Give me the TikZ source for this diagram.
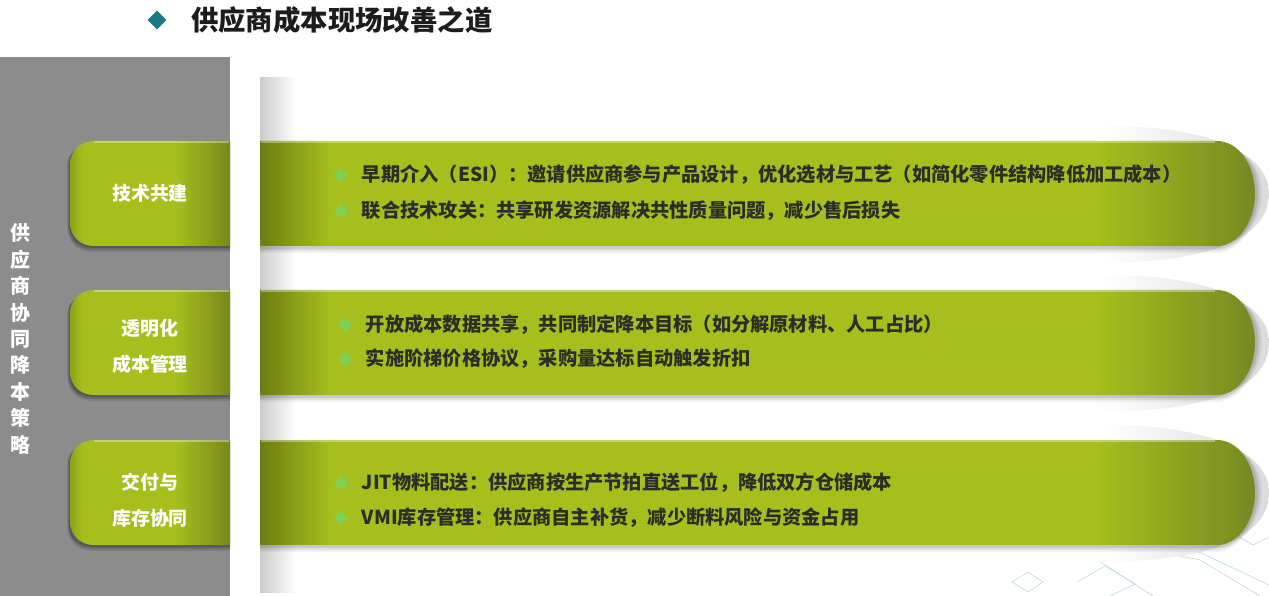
\documentclass[tikz,border=0pt]{standalone}
\usepackage{fontspec}
\setmainfont{Noto Sans CJK SC}
\definecolor{panelgray}{RGB}{140, 140, 140}
\definecolor{titleteal}{RGB}{22, 122, 132}
\definecolor{titledark}{RGB}{28, 28, 28}
\definecolor{textdark}{RGB}{45, 45, 40}
\definecolor{bulletgreen}{RGB}{128, 208, 82}
\definecolor{banmain}{RGB}{166, 191, 28}
\definecolor{bandeep}{RGB}{108, 124, 16}
\definecolor{banend}{RGB}{118, 137, 34}
\definecolor{tabdark}{RGB}{120, 136, 26}
\definecolor{gridline}{RGB}{196, 214, 222}
\usetikzlibrary{shapes.geometric, positioning}
\pgfdeclarehorizontalshading{bannershade}{100bp}{color(0bp)=(bandeep); color(25bp)=(bandeep); color(28.5bp)=(banmain); color(67bp)=(banmain); color(75bp)=(banend); color(100bp)=(banend)}
\pgfdeclarehorizontalshading{tabshade}{100bp}{color(0bp)=(banmain!85!black); color(25bp)=(banmain!85!black); color(29bp)=(banmain); color(58bp)=(banmain); color(75bp)=(tabdark); color(100bp)=(tabdark)}
\pgfdeclarehorizontalshading{swooshshade}{100bp}{color(0bp)=(white); color(38bp)=(white); color(75bp)=(black!14); color(100bp)=(black!14)}

\begin{document}
\begin{tikzpicture}[x=1bp, y=-1bp]
  \useasboundingbox (0,0) rectangle (1269,596);

  % Title
  \node[diamond, fill=titleteal, inner sep=0pt, minimum size=19bp] (titlemark) at (157,20) {};
  \node[anchor=west, inner sep=0pt, text=titledark, font=\fontsize{27.5}{32}\selectfont\bfseries] (title) at (191,20) {供应商成本现场改善之道};

  % Left panel
  \fill[panelgray] (0,57) rectangle (230,596);
  \node[text=white, align=center, font=\fontsize{20}{26.5}\selectfont\bfseries] (strategy) at (20,339) {供\\应\\商\\协\\同\\降\\本\\策\\略};

  % Page shadow and background lines
  \fill[left color=black!20, right color=white] (260,78) rectangle (296,592);
  \draw[gridline, line width=0.6bp] (1012,582) -- (1028,572) -- (1043,582) -- (1028,592) -- cycle;
  \draw[gridline, line width=0.6bp] (1077,582) -- (1105,566) -- (1135,584) -- (1110,596);
  \draw[gridline, line width=0.6bp] (1085,552) -- (1110,542) -- (1200,560) -- (1260,596);
  \draw[gridline, line width=0.6bp] (1085,552) -- (1153,596);
  \draw[gridline, line width=0.6bp] (1100,560) -- (1180,543) -- (1269,585);
  \draw[gridline, line width=0.6bp] (1233,533) -- (1253,545) -- (1269,537);

  % Bars
  \foreach \top [evaluate=\top as \mid using \top+52.5,
                 evaluate=\top as \bot using \top+105] in {141,290,440} {
    % swoosh behind the round end
    \shade[shading=swooshshade]
      (1040,\top-12) .. controls (1200,\top-26) and (1269,\top+10) .. (1269,\mid)
      .. controls (1269,\bot-5) and (1200,\bot+26) .. (1040,\bot+14) -- cycle;
    % soft shadows
    \foreach \d/\op in {7/0.05, 5/0.07, 3/0.10}
      \fill[black, opacity=\op]
        (260+\d,\top+\d) -- (1217,\top+\d) .. controls (1238+\d,\top+\d) and (1255+\d,\mid-29) .. (1255+\d,\mid)
        .. controls (1255+\d,\mid+29) and (1238,\bot+\d) .. (1217,\bot+\d) -- (260,\bot+\d) -- cycle;
    \foreach \d/\op in {6/0.10, 4/0.14, 2/0.18}
      \fill[black, opacity=\op]
        (230,\top+\d) -- (92,\top+\d) .. controls (80,\top+\d) and (70-\d/2,\top+10) .. (70-\d/2,\top+24)
        -- (70-\d/2,\bot-22) .. controls (70-\d/2,\bot-6+\d) and (80,\bot+\d) .. (94,\bot+\d) -- (230,\bot+\d) -- cycle;
    % banner
    \shade[shading=bannershade]
      (260,\top) -- (1217,\top) .. controls (1238,\top) and (1255,\mid-29) .. (1255,\mid)
      .. controls (1255,\mid+29) and (1238,\bot) .. (1217,\bot) -- (260,\bot) -- cycle;
    \draw[white, opacity=0.35, line width=1.2bp] (261,\top+1) -- (1215,\top+1);
    % tab
    \shade[shading=tabshade]
      (230,\top) -- (94,\top) .. controls (80,\top) and (70,\top+10) .. (70,\top+24)
      -- (70,\bot-24) .. controls (70,\bot-10) and (80,\bot) .. (94,\bot) -- (230,\bot) -- cycle;
    \draw[white, opacity=0.35, line width=1.2bp] (94,\top+1) -- (229,\top+1);
  }

  % Tab labels
  \node[text=white, align=center, font=\fontsize{19}{36}\selectfont\bfseries] (techtab) at (150,193) {技术共建};
  \node[text=white, align=center, font=\fontsize{19}{36}\selectfont\bfseries] (costtab) at (150,346) {透明化\\成本管理};
  \node[text=white, align=center, font=\fontsize{19}{36}\selectfont\bfseries] (stocktab) at (150,500) {交付与\\库存协同};

  % Points: technology
  \node[diamond, fill=bulletgreen, inner sep=0pt, minimum size=15bp] (techa) at (341,175) {};
  \node[right=13bp of techa, inner sep=0pt, text=textdark, font=\fontsize{19.3}{23}\selectfont\bfseries] {早期介入（ESI）：邀请供应商参与产品设计，优化选材与工艺（如简化零件结构降低加工成本）};
  \node[diamond, fill=bulletgreen, inner sep=0pt, minimum size=15bp] (techb) at (341,211) {};
  \node[right=13bp of techb, inner sep=0pt, text=textdark, font=\fontsize{19.3}{23}\selectfont\bfseries] {联合技术攻关：共享研发资源解决共性质量问题，减少售后损失};

  % Points: cost
  \node[diamond, fill=bulletgreen, inner sep=0pt, minimum size=15bp] (costa) at (345,325) {};
  \node[right=13bp of costa, inner sep=0pt, text=textdark, font=\fontsize{19.3}{23}\selectfont\bfseries] {开放成本数据共享，共同制定降本目标（如分解原材料、人工占比）};
  \node[diamond, fill=bulletgreen, inner sep=0pt, minimum size=15bp] (costb) at (345,359) {};
  \node[right=13bp of costb, inner sep=0pt, text=textdark, font=\fontsize{19.3}{23}\selectfont\bfseries] {实施阶梯价格协议，采购量达标自动触发折扣};

  % Points: delivery and stock
  \node[diamond, fill=bulletgreen, inner sep=0pt, minimum size=15bp] (stocka) at (341,483) {};
  \node[right=13bp of stocka, inner sep=0pt, text=textdark, font=\fontsize{19.3}{23}\selectfont\bfseries] {JIT物料配送：供应商按生产节拍直送工位，降低双方仓储成本};
  \node[diamond, fill=bulletgreen, inner sep=0pt, minimum size=15bp] (stockb) at (341,518) {};
  \node[right=13bp of stockb, inner sep=0pt, text=textdark, font=\fontsize{19.3}{23}\selectfont\bfseries] {VMI库存管理：供应商自主补货，减少断料风险与资金占用};
\end{tikzpicture}
\end{document}
